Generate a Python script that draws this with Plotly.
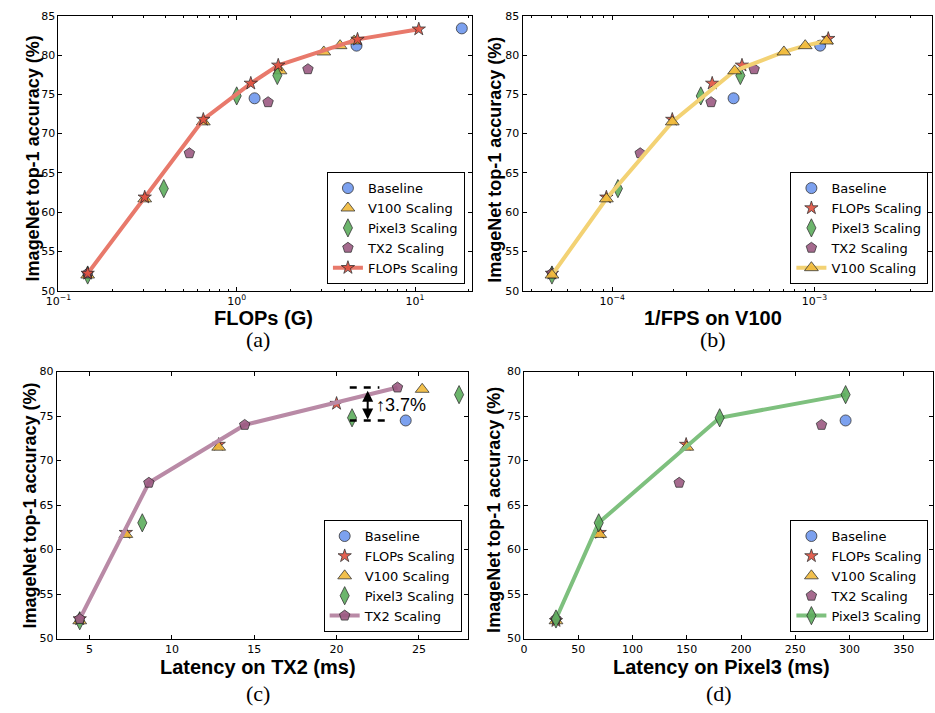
import plotly.graph_objects as go

W, H = 935, 713

# ---------------- data ----------------
# (a) FLOPs (G)
a_base_x = [1.26, 4.7, 18.3];                        a_base_y = [74.5, 81.2, 83.4]
a_v100_x = [0.146, 0.305, 0.65, 1.75, 3.08, 3.8, 4.56]; a_v100_y = [52.0, 61.7, 71.5, 78.0, 80.4, 81.2, 81.8]
a_pix_x = [0.146, 0.39, 1.0, 1.69];                  a_pix_y = [52.0, 63.0, 74.8, 77.4]
a_tx2_x = [0.146, 0.543, 1.5, 2.51];                 a_tx2_y = [52.2, 67.5, 74.0, 78.2]
a_flops_x = [0.146, 0.305, 0.65, 1.2, 1.71, 4.76, 10.5]; a_flops_y = [52.2, 61.9, 71.8, 76.4, 78.7, 82.0, 83.3]

# (b) 1/FPS on V100
b_base_x = [3.98e-4, 1.067e-3];                      b_base_y = [74.5, 81.2]
b_flops_x = [5.03e-5, 9.35e-5, 1.98e-4, 3.12e-4, 4.38e-4, 1.17e-3]; b_flops_y = [52.2, 61.9, 71.8, 76.4, 78.7, 82.1]
b_pix_x = [5.03e-5, 1.066e-4, 2.74e-4, 4.3e-4];      b_pix_y = [52.0, 63.0, 74.8, 77.4]
b_tx2_x = [5.03e-5, 1.374e-4, 3.08e-4, 5.03e-4];     b_tx2_y = [52.2, 67.5, 74.0, 78.2]
b_v100_x = [5.03e-5, 9.35e-5, 1.98e-4, 4.03e-4, 7.06e-4, 9.0e-4, 1.148e-3]; b_v100_y = [52.0, 61.7, 71.5, 78.0, 80.4, 81.2, 81.8]

# (c) Latency on TX2 (ms)
c_base_x = [24.2];                   c_base_y = [74.5]
c_flops_x = [4.4, 7.2, 12.84, 20.0]; c_flops_y = [52.2, 61.9, 71.8, 76.4]
c_v100_x = [4.4, 7.2, 12.84, 25.2];  c_v100_y = [52.0, 61.7, 71.5, 78.0]
c_pix_x = [4.4, 8.2, 20.94, 27.44];  c_pix_y = [52.0, 63.0, 74.8, 77.4]
c_tx2_x = [4.4, 8.6, 14.42, 23.7];   c_tx2_y = [52.2, 67.5, 74.0, 78.2]

# (d) Latency on Pixel3 (ms)
d_base_x = [296.4];                  d_base_y = [74.5]
d_flops_x = [29.4, 69.7, 149.4];     d_flops_y = [52.0, 61.9, 71.8]
d_v100_x = [29.4, 69.7, 150.0];      d_v100_y = [52.0, 61.7, 71.5]
d_tx2_x = [29.4, 143.0, 274.2];      d_tx2_y = [52.2, 67.5, 74.0]
d_pix_x = [29.4, 68.8, 180.3, 296.4]; d_pix_y = [52.2, 63.0, 74.8, 77.4]

# annotation in (c)
gap_x = [20.8, 22.6, 23.0]
gap_hi, gap_lo = 78.2, 74.5
gap_label = "↑3.7%"

captions = ["(a)", "(b)", "(c)", "(d)"]
xtitles = ["FLOPs (G)", "1/FPS on V100", "Latency on TX2 (ms)", "Latency on Pixel3 (ms)"]
ytitle = "ImageNet top-1 accuracy (%)"

# ---------------- styles ----------------
STY = {
    "Baseline":       dict(symbol="circle", color="#6E97EE", size=11, line="rgba(0,0,0,0)"),
    "V100 Scaling":   dict(symbol="triangle-up", color="#F1BA3A", size=12, line="#F3D274"),
    "Pixel3 Scaling": dict(symbol="diamond-tall", color="#5DAD5D", size=13, line="#7EC07E"),
    "TX2 Scaling":    dict(symbol="pentagon", color="#9C5A82", size=11, line="#B98AA6"),
    "FLOPs Scaling":  dict(symbol="star", color="#E0503F", size=10, line="#E8796B"),
}

fig = go.Figure()

def add(name, xs, ys, ax, leg, is_line):
    s = STY[name]
    fig.add_trace(go.Scatter(
        x=xs, y=ys, name=name,
        mode="lines+markers" if is_line else "markers",
        line=dict(color=s["line"], width=4) if is_line else None,
        marker=dict(symbol=s["symbol"], size=s["size"], color=s["color"],
                    opacity=0.9, line=dict(color="#222222", width=0.8)),
        xaxis="x" + ax, yaxis="y" + ax, legend=leg, showlegend=True,
    ))

add("Baseline", a_base_x, a_base_y, "", "legend", False)
add("V100 Scaling", a_v100_x, a_v100_y, "", "legend", False)
add("Pixel3 Scaling", a_pix_x, a_pix_y, "", "legend", False)
add("TX2 Scaling", a_tx2_x, a_tx2_y, "", "legend", False)
add("FLOPs Scaling", a_flops_x, a_flops_y, "", "legend", True)

add("Baseline", b_base_x, b_base_y, "2", "legend2", False)
add("FLOPs Scaling", b_flops_x, b_flops_y, "2", "legend2", False)
add("Pixel3 Scaling", b_pix_x, b_pix_y, "2", "legend2", False)
add("TX2 Scaling", b_tx2_x, b_tx2_y, "2", "legend2", False)
add("V100 Scaling", b_v100_x, b_v100_y, "2", "legend2", True)

add("Baseline", c_base_x, c_base_y, "3", "legend3", False)
add("FLOPs Scaling", c_flops_x, c_flops_y, "3", "legend3", False)
add("V100 Scaling", c_v100_x, c_v100_y, "3", "legend3", False)
add("Pixel3 Scaling", c_pix_x, c_pix_y, "3", "legend3", False)
add("TX2 Scaling", c_tx2_x, c_tx2_y, "3", "legend3", True)

add("Baseline", d_base_x, d_base_y, "4", "legend4", False)
add("FLOPs Scaling", d_flops_x, d_flops_y, "4", "legend4", False)
add("V100 Scaling", d_v100_x, d_v100_y, "4", "legend4", False)
add("TX2 Scaling", d_tx2_x, d_tx2_y, "4", "legend4", False)
add("Pixel3 Scaling", d_pix_x, d_pix_y, "4", "legend4", True)

# ---------------- axes ----------------
TICKFONT = dict(family="DejaVu Sans", size=11, color="black")

def px_dom(a, b, total):
    return [a / total, b / total]

def ydom(top, bot):
    return [1 - bot / H, 1 - top / H]

def axis_common():
    return dict(showline=True, linecolor="black", linewidth=1, mirror="allticks",
                ticks="inside", ticklen=4, tickcolor="black", tickwidth=1,
                showgrid=False, zeroline=False, tickfont=TICKFONT)

def log_minor(lo, hi):
    vals = []
    for e in range(lo, hi + 1):
        for m in range(2, 10):
            vals.append(m * 10 ** e)
    return vals

xa = axis_common(); xa.update(type="log", range=[-1, 1.317], domain=px_dom(46, 465, W), anchor="y",
                              tickmode="array", tickvals=[0.1, 1, 10],
                              ticktext=["10<sup>−1</sup>", "10<sup>0</sup>", "10<sup>1</sup>"],
                              minor=dict(ticks="inside", ticklen=2, tickcolor="black", tickmode="array",
                                         tickvals=log_minor(-1, 1), showgrid=False))
ya = axis_common(); ya.update(range=[50, 85], domain=ydom(10, 290), anchor="x",
                              tickmode="array", tickvals=[50, 55, 60, 65, 70, 75, 80, 85])

xb = axis_common(); xb.update(type="log", range=[-4.444, -2.42], domain=px_dom(516.7, 931.7, W), anchor="y2",
                              tickmode="array", tickvals=[1e-4, 1e-3],
                              ticktext=["10<sup>−4</sup>", "10<sup>−3</sup>"],
                              minor=dict(ticks="inside", ticklen=2, tickcolor="black", tickmode="array",
                                         tickvals=log_minor(-5, -3), showgrid=False))
yb = axis_common(); yb.update(range=[50, 85], domain=ydom(10, 290), anchor="x2",
                              tickmode="array", tickvals=[50, 55, 60, 65, 70, 75, 80, 85])

xc = axis_common(); xc.update(range=[3, 28], domain=px_dom(44.3, 461.7, W), anchor="y3",
                              tickmode="array", tickvals=[5, 10, 15, 20, 25])
yc = axis_common(); yc.update(range=[50, 80], domain=ydom(372.3, 644.3), anchor="x3",
                              tickmode="array", tickvals=[50, 55, 60, 65, 70, 75, 80])

xd = axis_common(); xd.update(range=[0, 377], domain=px_dom(518.3, 933, W), anchor="y4",
                              tickmode="array", tickvals=[0, 50, 100, 150, 200, 250, 300, 350])
yd = axis_common(); yd.update(range=[50, 80], domain=ydom(372.3, 644.3), anchor="x4",
                              tickmode="array", tickvals=[50, 55, 60, 65, 70, 75, 80])

LEGFONT = dict(family="DejaVu Sans", size=13, color="black")

def legend_at(right_px, bottom_px):
    return dict(x=right_px / W, y=1 - bottom_px / H, xanchor="right", yanchor="bottom",
                bgcolor="white", bordercolor="black", borderwidth=1, font=LEGFONT,
                tracegroupgap=0, itemsizing="trace")

annotations = []
XTFONT = dict(family="Liberation Sans", size=20, color="black")
YTFONT = dict(family="Liberation Sans", size=18, color="black")
for t, (cx, cy) in zip(xtitles, [(254, 318), (710, 318), (248, 673), (718, 673)]):
    annotations.append(dict(text="<b>%s</b>" % t, x=cx / W, y=1 - cy / H, xref="paper", yref="paper",
                            xanchor="center", yanchor="middle", showarrow=False, font=XTFONT))
for (cx, cy) in [(20, 155.5), (488, 156.5), (17, 509), (487, 513)]:
    annotations.append(dict(text="<b>%s</b>" % ytitle, x=cx / W, y=1 - cy / H, xref="paper", yref="paper",
                            xanchor="center", yanchor="middle", textangle=-90, showarrow=False,
                            font=YTFONT))
CAPFONT = dict(family="Liberation Serif", size=22, color="black")
for t, (cx, cy) in zip(captions, [(248, 340), (710, 340), (248, 700), (716, 700)]):
    annotations.append(dict(text=t, x=cx / W, y=1 - cy / H, xref="paper", yref="paper",
                            xanchor="center", yanchor="middle", showarrow=False, font=CAPFONT))

# double arrow in (c)
annotations.append(dict(x=21.89, y=gap_lo + 0.1, ax=21.89, ay=gap_hi - 0.2, xref="x3", yref="y3",
                        axref="x3", ayref="y3", showarrow=True, arrowhead=2, startarrowhead=2,
                        arrowside="end+start", arrowsize=1.1, arrowwidth=2, arrowcolor="black", text=""))
annotations.append(dict(x=23.9, y=76.2, xref="x3", yref="y3", text=gap_label, showarrow=False,
                        font=dict(family="Liberation Sans", size=18, color="black"),
                        xanchor="center", yanchor="middle"))

shapes = [
    dict(type="line", xref="x3", yref="y3", x0=gap_x[0], x1=gap_x[1], y0=gap_hi, y1=gap_hi,
         line=dict(color="black", width=2.5, dash="7px,7px")),
    dict(type="line", xref="x3", yref="y3", x0=gap_x[0], x1=gap_x[2], y0=gap_lo, y1=gap_lo,
         line=dict(color="black", width=2.5, dash="7px,7px")),
]

fig.update_layout(
    width=W, height=H, margin=dict(l=0, r=0, t=0, b=0), autosize=False,
    paper_bgcolor="white", plot_bgcolor="white",
    xaxis=xa, yaxis=ya, xaxis2=xb, yaxis2=yb, xaxis3=xc, yaxis3=yc, xaxis4=xd, yaxis4=yd,
    legend=legend_at(458.3, 283.3), legend2=legend_at(928.3, 283.3),
    legend3=legend_at(455, 637.7), legend4=legend_at(928.3, 637.7),
    annotations=annotations, shapes=shapes, showlegend=True,
)

fig.write_html("out.html")
